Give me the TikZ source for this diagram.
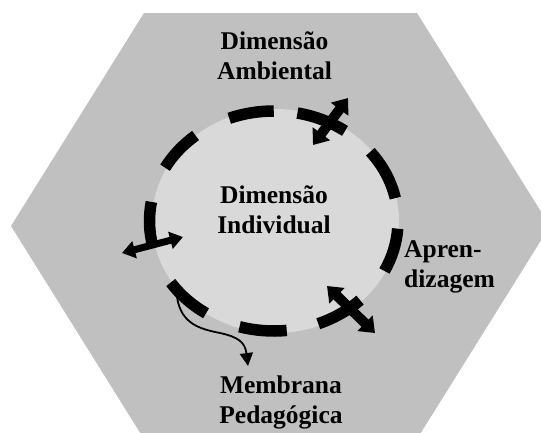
\documentclass[tikz,border=0pt]{standalone}
\usepackage{fontspec}
\setmainfont{Liberation Serif}
\usetikzlibrary{arrows.meta}
\definecolor{hexgray}{RGB}{192,192,192}
\definecolor{coregray}{RGB}{217,217,217}
\newcommand\membranearc[2]{%
  \draw[membrane] ([shift={(mc)}]#1:124.25 and 110)
    arc[start angle=#1, end angle=#2, x radius=124.25, y radius=110];}
\begin{document}
\begin{tikzpicture}[x=1pt,y=-1pt,
  tagtext/.style={font=\fontsize{25.5}{30}\selectfont\bfseries, inner sep=0pt, align=center},
  membrane/.style={line width=11.5pt, line cap=butt},
  flux/.style={line width=10pt,
    {Triangle[width=21pt,length=14pt]}-{Triangle[width=21pt,length=14pt]}},
  fluxthin/.style={line width=7pt,
    {Triangle[width=17pt,length=13pt]}-{Triangle[width=17pt,length=13pt]}},
  pointer/.style={line width=1.8pt, -{Triangle[width=13pt,length=13pt]}}]
\useasboundingbox (0,0) rectangle (541,432);
\clip (0,0) rectangle (541,432);
% environment
\fill[hexgray] (11,226) -- (144,13) -- (417,13) -- (550,226) -- (417,439) -- (144,439) -- cycle;
% individual core
\fill[coregray] (275.5,221) ellipse [x radius=123.5, y radius=112];
% pedagogical membrane
\coordinate (mc) at (273.75,221);
\membranearc{-90}{-111}
\membranearc{-55}{-79}
\membranearc{-12}{-39}
\membranearc{4}{27}
\membranearc{46}{69}
\membranearc{84}{106}
\membranearc{123}{146}
\membranearc{166}{190}
\membranearc{-129}{-151}
% exchanges across the membrane
\coordinate (aIn) at (313,145);
\coordinate (aOut) at (348,98);
\coordinate (bOut) at (122,253);
\coordinate (bIn) at (183,237);
\coordinate (cIn) at (327,286);
\coordinate (cOut) at (375,333);
\coordinate (dStart) at (177,297);
\coordinate (dEnd) at (248,366);
\draw[flux] (aIn) -- (aOut);
\draw[fluxthin] (bOut) -- (bIn);
\draw[flux] (cIn) -- (cOut);
\draw[pointer] (dStart) .. controls (181,324) and (200,329) .. (220,333)
  .. controls (238,337) and (245,342) .. (dEnd);
% labels
\node[tagtext] (amb) at (274.5,56) {Dimensão\\Ambiental};
\node[tagtext] (ind) at (274,210) {Dimensão\\Individual};
\node[tagtext, align=left, anchor=west] (apr) at (404,267) {Apren-\\dizagem};
\node[tagtext] (mem) at (281,402) {Membrana\\Pedagógica};
\end{tikzpicture}
\end{document}
